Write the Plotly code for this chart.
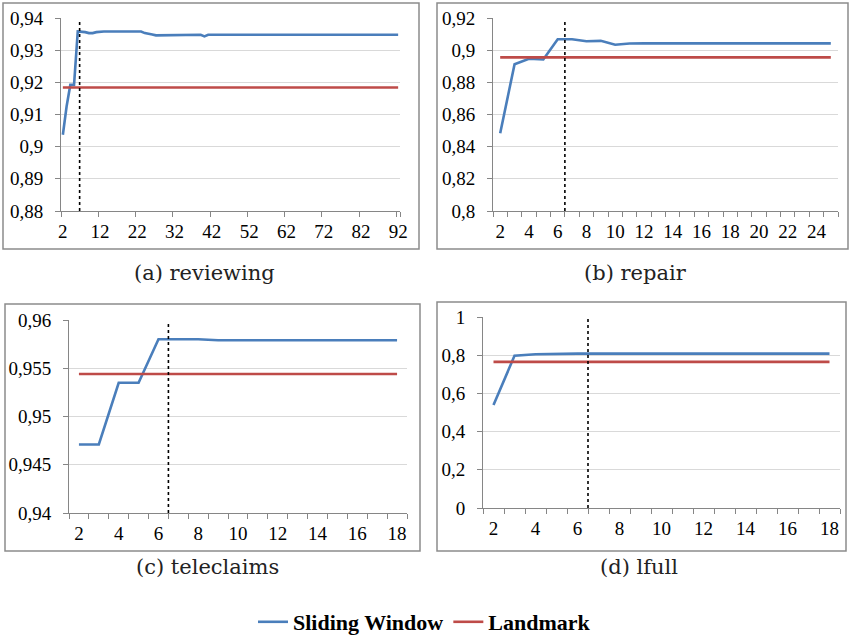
import plotly.graph_objects as go

W, H = 849, 635

# ---------------- data ----------------
cat_a = list(range(2, 93))
sw_a = [0.9037, 0.9125, 0.9192, 0.9192, 0.9358, 0.9358, 0.9356, 0.9353, 0.9353, 0.9356,
        0.9358, 0.9358, 0.9358, 0.9358, 0.9358, 0.9360, 0.9360, 0.9360, 0.9360, 0.9358,
        0.9358, 0.9358, 0.9353, 0.9352, 0.9349, 0.9346, 0.9346, 0.9346, 0.9346, 0.9346,
        0.9346, 0.9346, 0.9348, 0.9348, 0.9348, 0.9348, 0.9348, 0.9348, 0.9343, 0.9348,
        0.9348, 0.9348, 0.9348, 0.9348, 0.9348, 0.9348, 0.9348, 0.9348, 0.9348, 0.9348,
        0.9348, 0.9348, 0.9348, 0.9348, 0.9348, 0.9348, 0.9348, 0.9348, 0.9348, 0.9348,
        0.9348, 0.9348, 0.9348, 0.9348, 0.9348, 0.9348, 0.9348, 0.9348, 0.9348, 0.9348,
        0.9348, 0.9348, 0.9348, 0.9348, 0.9348, 0.9348, 0.9348, 0.9348, 0.9348, 0.9348,
        0.9348, 0.9348, 0.9348, 0.9348, 0.9348, 0.9348, 0.9348, 0.9348, 0.9348, 0.9348,
        0.9348]
lm_a = 0.9184

cat_b = list(range(2, 26))
sw_b = [0.8483, 0.8913, 0.8947, 0.8942, 0.9068, 0.9068, 0.9055, 0.9058, 0.9034, 0.9041,
        0.9042, 0.9042, 0.9042, 0.9042, 0.9042, 0.9042, 0.9042, 0.9042, 0.9042, 0.9042,
        0.9042, 0.9042, 0.9042, 0.9042]
lm_b = 0.8955

cat_c = list(range(2, 19))
sw_c = [0.9471, 0.9471, 0.9535, 0.9535, 0.9580, 0.9580, 0.9580, 0.9579, 0.9579, 0.9579,
        0.9579, 0.9579, 0.9579, 0.9579, 0.9579, 0.9579, 0.9579]
lm_c = 0.9544

cat_d = list(range(2, 19))
sw_d = [0.539, 0.797, 0.805, 0.808, 0.808, 0.808, 0.808, 0.808, 0.808, 0.808,
        0.808, 0.808, 0.808, 0.808, 0.808, 0.808, 0.808]
lm_d = 0.765

threshold = 6.5

ytick_a = [0.88, 0.89, 0.90, 0.91, 0.92, 0.93, 0.94]
ylab_a = ["0,88", "0,89", "0,9", "0,91", "0,92", "0,93", "0,94"]
ytick_b = [0.80, 0.82, 0.84, 0.86, 0.88, 0.90, 0.92]
ylab_b = ["0,8", "0,82", "0,84", "0,86", "0,88", "0,9", "0,92"]
ytick_c = [0.94, 0.945, 0.95, 0.955, 0.96]
ylab_c = ["0,94", "0,945", "0,95", "0,955", "0,96"]
ytick_d = [0, 0.2, 0.4, 0.6, 0.8, 1.0]
ylab_d = ["0", "0,2", "0,4", "0,6", "0,8", "1"]

xlab_a = [2, 12, 22, 32, 42, 52, 62, 72, 82, 92]
xlab_b = [2, 4, 6, 8, 10, 12, 14, 16, 18, 20, 22, 24]
xlab_c = [2, 4, 6, 8, 10, 12, 14, 16, 18]
xlab_d = [2, 4, 6, 8, 10, 12, 14, 16, 18]

captions = ["(a) reviewing", "(b) repair", "(c) teleclaims", "(d) lfull"]
series_names = ["Sliding Window", "Landmark"]

# ---------------- style ----------------
BLUE = "#4A7EBB"
RED = "#BE4B48"
GRID = "#D9D9D9"
AXIS = "#868686"
FRAME = "#8C8C8C"
SERIF = "Liberation Serif"
TICKFONT = dict(family=SERIF, size=19, color="black")

# plot areas in pixels: (x0, x1, ytop, ybottom)
areas = [(61, 400, 18, 211), (493, 838, 18, 211), (69, 407, 320, 513), (483, 840, 317, 508)]
frames = [(3, 419, 3, 249), (437, 848, 3, 249), (5, 420, 304, 551), (437, 846, 302, 551)]
cap_pos = [(204, 273), (635, 273), (207, 567), (639, 567)]

panels = [
    (cat_a, sw_a, lm_a, ytick_a, ylab_a, xlab_a, 10),
    (cat_b, sw_b, lm_b, ytick_b, ylab_b, xlab_b, 1),
    (cat_c, sw_c, lm_c, ytick_c, ylab_c, xlab_c, 1),
    (cat_d, sw_d, lm_d, ytick_d, ylab_d, xlab_d, 1),
]

fig = go.Figure()
layout = dict(
    template="none",
    width=W, height=H, margin=dict(l=0, r=0, t=0, b=0, autoexpand=False),
    paper_bgcolor="white", plot_bgcolor="white",
    showlegend=True,
    legend=dict(orientation="h", x=0.5, xanchor="center", y=1 - 622 / H, yanchor="middle",
                font=dict(family=SERIF, size=22, color="black", weight="bold"),
                itemwidth=30, bgcolor="rgba(0,0,0,0)"),
)
shapes = []
annotations = []

for i, (cats, sw, lm, yt, yl, xl, tstep) in enumerate(panels):
    n = i + 1
    xa = "x" if n == 1 else f"x{n}"
    ya = "y" if n == 1 else f"y{n}"
    x0, x1, yt_px, yb_px = areas[i]
    xmin, xmax = cats[0] - 0.5, cats[-1] + 0.5
    minor_vals = [c - 0.5 for c in cats[::tstep]] + [xmax]

    fig.add_trace(go.Scatter(x=cats, y=sw, mode="lines", name=series_names[0],
                             line=dict(color=BLUE, width=2.6), xaxis=xa, yaxis=ya,
                             showlegend=(n == 1), legendgroup="sw"))
    fig.add_trace(go.Scatter(x=[cats[0], cats[-1]], y=[lm, lm], mode="lines", name=series_names[1],
                             line=dict(color=RED, width=2.6), xaxis=xa, yaxis=ya,
                             showlegend=(n == 1), legendgroup="lm"))

    layout[f"xaxis{'' if n == 1 else n}"] = dict(
        domain=[x0 / W, x1 / W], anchor=ya, range=[xmin, xmax], automargin=False,
        tickvals=xl, ticktext=[str(v) for v in xl], ticks="", tickfont=TICKFONT,
        showgrid=False, zeroline=False, showline=True, linecolor=AXIS, linewidth=1,
        minor=dict(tickvals=minor_vals, ticks="outside", ticklen=5, tickcolor=AXIS, showgrid=False),
        ticklabelstandoff=3, fixedrange=True,
    )
    layout[f"yaxis{'' if n == 1 else n}"] = dict(
        domain=[1 - yb_px / H, 1 - yt_px / H], anchor=xa, range=[yt[0], yt[-1]], automargin=False,
        tickvals=yt, ticktext=yl, ticks="outside", ticklen=5, tickcolor=AXIS, tickfont=TICKFONT,
        showgrid=True, gridcolor=GRID, gridwidth=1, zeroline=False,
        showline=True, linecolor=AXIS, linewidth=1, ticklabelstandoff=8, fixedrange=True,
    )

    shapes.append(dict(type="line", xref=xa, yref=f"{ya} domain", x0=threshold, x1=threshold,
                       y0=0, y1=0.99, line=dict(color="black", width=1.6, dash="dot")))

    fx0, fx1, fy0, fy1 = frames[i]
    shapes.append(dict(type="rect", xref="paper", yref="paper",
                       x0=fx0 / W, x1=fx1 / W, y0=1 - fy1 / H, y1=1 - fy0 / H,
                       line=dict(color=FRAME, width=1.5), fillcolor="rgba(0,0,0,0)", layer="below"))

    cx, cy = cap_pos[i]
    annotations.append(dict(text=captions[i], xref="paper", yref="paper", x=cx / W, y=1 - cy / H,
                            xanchor="center", yanchor="middle", showarrow=False,
                            font=dict(family="DejaVu Serif", size=21, color="#222222")))

layout["shapes"] = shapes
layout["annotations"] = annotations
fig.update_layout(**layout)
fig.write_html("out.html",
               config={"displayModeBar": False},
               post_script="document.body.style.margin='0px';document.body.style.overflow='hidden';")
